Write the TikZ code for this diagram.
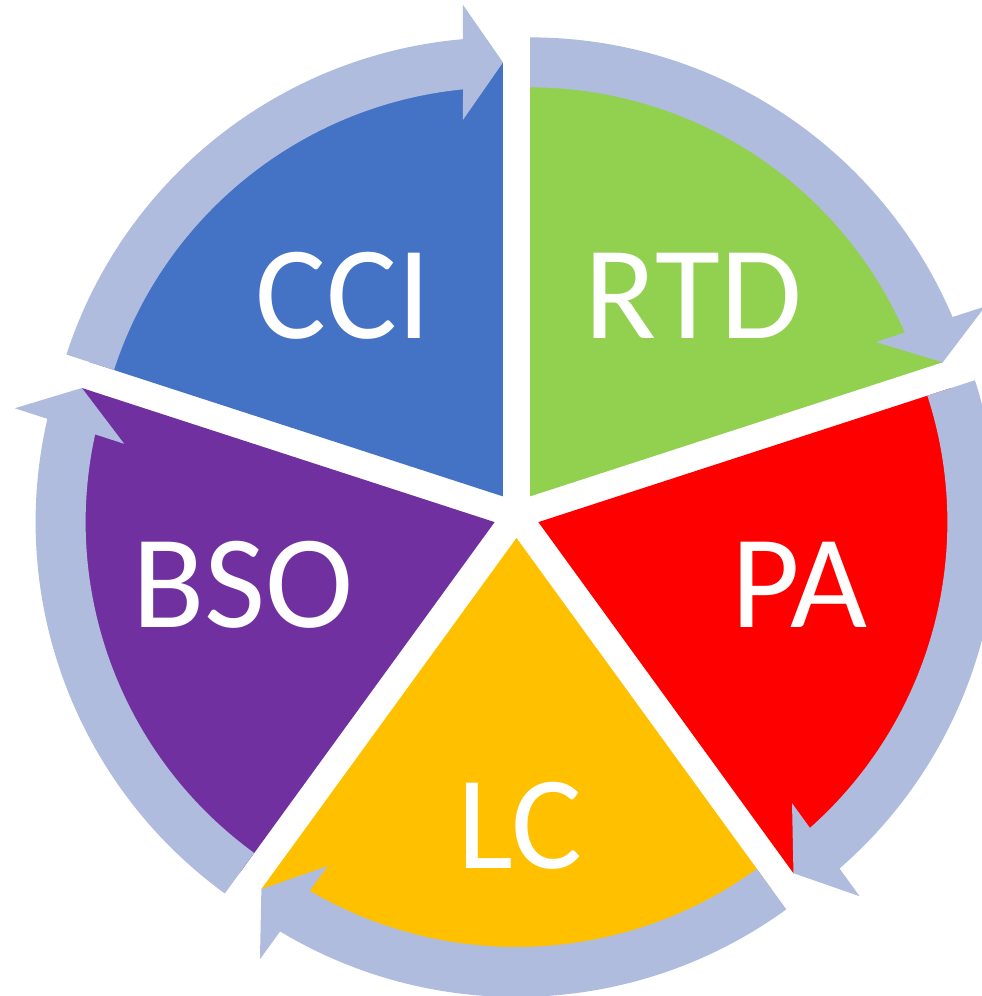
\documentclass[tikz,border=0pt]{standalone}
\usepackage{fontspec}
\setmainfont{Carlito}
\definecolor{cciblue}{HTML}{4472C4}
\definecolor{rtdgreen}{HTML}{92D050}
\definecolor{pared}{HTML}{FF0000}
\definecolor{lcyellow}{HTML}{FFC000}
\definecolor{bsopurple}{HTML}{7030A0}
\definecolor{ringblue}{RGB}{175,188,222}
\tikzset{
  seglabel/.style={text=white, anchor=base, inner sep=0pt, font=\fontsize{133}{133}\selectfont},
  ringarrow/.style={fill=ringblue, draw=none}
}
\newcommand{\pieseg}[3]{% start angle (cw bound), mid angle, colour
  \fill[#3] (#2:23) -- ++(#1:434) arc[start angle=#1, end angle=#1+72, radius=434pt] -- cycle;
}
\newcommand{\cyclearrow}[2]{% mid angle, cw bound angle
  \begin{scope}[shift={(#1:23)}, rotate=#2-90]
    \fill[ringarrow] (162:459) arc[start angle=162, end angle=95.0, radius=459pt]
      -- (-40,491.5) -- (0,434) -- (-40,376.5) -- (95.61:409)
      arc[start angle=95.61, end angle=162, radius=409pt] -- cycle;
  \end{scope}
}
\begin{document}
\begin{tikzpicture}[x=1pt,y=1pt]
\useasboundingbox (-516.5,-481) rectangle (465.5,515);
% segments
\pieseg{90}{126}{cciblue}
\pieseg{18}{54}{rtdgreen}
\pieseg{-54}{-18}{pared}
\pieseg{-126}{-90}{lcyellow}
\pieseg{162}{198}{bsopurple}
% ring arrows
\cyclearrow{126}{90}
\cyclearrow{54}{18}
\cyclearrow{-18}{-54}
\cyclearrow{-90}{-126}
\cyclearrow{198}{162}
% labels
\node[seglabel] (cci) at (-173.2,176.7) {CCI};
\node[seglabel] (rtd) at (176.7,176.7) {RTD};
\node[seglabel] (pa) at (283.2,-112.3) {PA};
\node[seglabel] (lc) at (3.5,-353.3) {LC};
\node[seglabel] (bso) at (-273.2,-112.3) {BSO};
\end{tikzpicture}
\end{document}
